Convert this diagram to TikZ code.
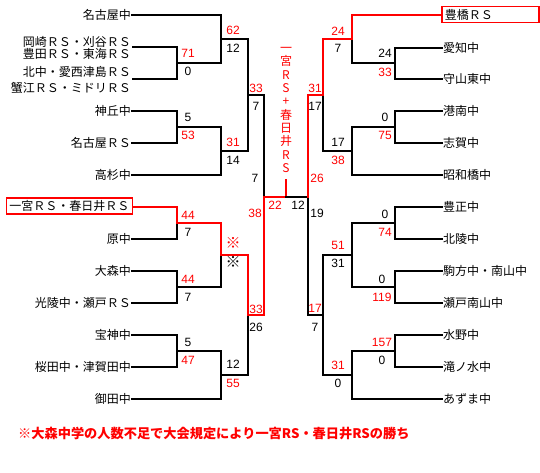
\documentclass[tikz,border=0pt]{standalone}
\usepackage{fontspec}
\setmainfont{Liberation Sans}
\newfontfamily\jp{Noto Sans CJK JP}
\begin{document}
\begin{tikzpicture}[x=1pt,y=-1pt,
  ln/.style={line width=2pt,line cap=rect},
  wl/.style={ln,draw=red},
  sc/.style={font=\fontsize{12}{12}\selectfont,inner sep=0pt},
  scr/.style={sc,text=red},
  mk/.style={font=\jp\fontsize{15}{15}\selectfont,inner sep=0pt},
  tm/.style={font=\jp\fontsize{12}{12}\selectfont,inner sep=1pt},
  tml/.style={tm,anchor=east},
  tmr/.style={tm,anchor=west}]
\useasboundingbox (0,0) rectangle (540,472);
% ---------- left teams
\node[tml] (L0) at (132,15) {名古屋中};
\node[tml] (L1a) at (132,42) {岡崎ＲＳ・刈谷ＲＳ};
\node[tml] (L1b) at (132,54) {豊田ＲＳ・東海ＲＳ};
\node[tml] (L2a) at (132,72) {北中・愛西津島ＲＳ};
\node[tml] (L2b) at (132,88) {蟹江ＲＳ・ミドリＲＳ};
\node[tml] (L3) at (132,111) {神丘中};
\node[tml] (L4) at (132,143) {名古屋ＲＳ};
\node[tml] (L5) at (132,175) {高杉中};
\node[tm,anchor=east,draw=red,line width=1.5pt,minimum width=126pt,minimum height=16pt,inner xsep=3pt] (L6) at (133,206) {一宮ＲＳ・春日井ＲＳ};
\node[tml] (L7) at (132,239) {原中};
\node[tml] (L8) at (132,271) {大森中};
\node[tml] (L9) at (132,303) {光陵中・瀬戸ＲＳ};
\node[tml] (L10) at (132,335) {宝神中};
\node[tml] (L11) at (132,367) {桜田中・津賀田中};
\node[tml] (L12) at (132,399) {御田中};
% ---------- right teams
\node[tm,anchor=west,draw=red,line width=1.5pt,minimum width=97pt,minimum height=16pt,text width=91pt,inner xsep=3pt,align=left] (R0) at (441,14.5) {豊橋ＲＳ};
\node[tmr] (R1) at (442,48) {愛知中};
\node[tmr] (R2) at (442,79) {守山東中};
\node[tmr] (R3) at (442,111) {港南中};
\node[tmr] (R4) at (442,143) {志賀中};
\node[tmr] (R5) at (442,175) {昭和橋中};
\node[tmr] (R6) at (442,207) {豊正中};
\node[tmr] (R7) at (442,239) {北陵中};
\node[tmr] (R8) at (442,271) {駒方中・南山中};
\node[tmr] (R9) at (442,303) {瀬戸南山中};
\node[tmr] (R10) at (442,335) {水野中};
\node[tmr] (R11) at (442,367) {滝ノ水中};
\node[tmr] (R12) at (442,399) {あずま中};
% ---------- coordinates
\coordinate (p1) at (133,47);
\coordinate (p2) at (133,79);
\coordinate (p6) at (133,207);
\coordinate (J1) at (177,63);
\coordinate (J2) at (221,39);
\coordinate (J3) at (177,127);
\coordinate (J4) at (221,151);
\coordinate (J5) at (248,95);
\coordinate (J6) at (177,223);
\coordinate (J7) at (177,287);
\coordinate (J8) at (221,255);
\coordinate (J9) at (177,351);
\coordinate (J10) at (221,375);
\coordinate (J11) at (248,315);
\coordinate (J12) at (264,197);
\coordinate (C) at (286,197);
\coordinate (Ctop) at (286,180);
\coordinate (K1) at (395,63);
\coordinate (K2) at (352,39);
\coordinate (K3) at (395,127);
\coordinate (K4) at (352,151);
\coordinate (K5) at (323,95);
\coordinate (K6) at (395,223);
\coordinate (K7) at (395,287);
\coordinate (K8) at (352,255);
\coordinate (K9) at (395,351);
\coordinate (K10) at (352,375);
\coordinate (K11) at (323,315);
\coordinate (K12) at (308,197);
% ---------- left bracket
\draw[ln] (L0.east) -| (J2);
\draw[ln] (p1) -| (J1) |- (p2);
\draw[ln] (J1) -| (J2);
\draw[ln] (J2) -| (J5);
\draw[ln] (L3.east) -| (J3) |- (L4.east);
\draw[ln] (J3) -| (J4);
\draw[ln] (L5.east) -| (J4);
\draw[ln] (J4) -| (J5);
\draw[ln] (J5) -| (J12);
\draw[ln] (L7.east) -| (J6);
\draw[wl] (p6) -| (J6);
\draw[ln] (L8.east) -| (J7) |- (L9.east);
\draw[ln] (J7) -| (J8);
\draw[wl] (J6) -| (J8);
\draw[ln] (L10.east) -| (J9) |- (L11.east);
\draw[ln] (J9) -| (J10);
\draw[ln] (L12.east) -| (J10);
\draw[ln] (J10) -| (J11);
\draw[wl] (J8) -| (J11);
\draw[wl] (J11) -| (J12);
\draw[wl] (J12) -- (C);
\draw[wl] (C) -- (Ctop);
\draw[ln] (C) -- (K12);
% ---------- right bracket
\draw[ln] (R1.west) -| (K1) |- (R2.west);
\draw[ln] (K1) -| (K2);
\draw[wl] (R0.west) -| (K2);
\draw[ln] (R3.west) -| (K3) |- (R4.west);
\draw[ln] (K3) -| (K4);
\draw[ln] (R5.west) -| (K4);
\draw[ln] (K4) -| (K5);
\draw[wl] (K2) -| (K5);
\draw[ln] (R6.west) -| (K6) |- (R7.west);
\draw[ln] (R8.west) -| (K7) |- (R9.west);
\draw[ln] (K6) -| (K8);
\draw[ln] (K7) -| (K8);
\draw[ln] (R10.west) -| (K9) |- (R11.west);
\draw[ln] (K9) -| (K10);
\draw[ln] (R12.west) -| (K10);
\draw[ln] (K8) -| (K11);
\draw[ln] (K10) -| (K11);
\draw[ln] (K11) -| (K12);
\draw[wl] (K5) -| (K12);
% ---------- champion
\node[text=red,font=\jp\fontsize{12}{13.3}\selectfont,align=center,inner sep=0pt] (champ) at (286,110)
  {一\\宮\\R\\S\\+\\春\\日\\井\\R\\S};
% ---------- scores left
\node[scr] (s1) at (233,30) {62};
\node[sc] (s2) at (233,48) {12};
\node[scr] (s3) at (188,53) {71};
\node[sc] (s4) at (188,71) {0};
\node[sc] (s5) at (188,117) {5};
\node[scr] (s6) at (188,135) {53};
\node[scr] (s7) at (233,142) {31};
\node[sc] (s8) at (233,160) {14};
\node[scr] (s9) at (256,88) {33};
\node[sc] (s10) at (256,106) {7};
\node[sc] (s11) at (255,178) {7};
\node[scr] (s12) at (255,213) {38};
\node[scr] (s13) at (275,205) {22};
\node[sc] (s14) at (298,205) {12};
\node[scr] (s15) at (317,178) {26};
\node[sc] (s16) at (317,213) {19};
\node[scr] (s17) at (188,215) {44};
\node[sc] (s18) at (188,232) {7};
\node[scr] (s19) at (188,279) {44};
\node[sc] (s20) at (188,297) {7};
\node[mk,text=red] (s21) at (233,243) {※};
\node[mk] (s22) at (233,262) {※};
\node[scr] (s23) at (256,309) {33};
\node[sc] (s24) at (256,327) {26};
\node[sc] (s25) at (188,342) {5};
\node[scr] (s26) at (188,360) {47};
\node[sc] (s27) at (233,364) {12};
\node[scr] (s28) at (233,383) {55};
% ---------- scores right
\node[scr] (t1) at (338,31) {24};
\node[sc] (t2) at (338,48) {7};
\node[sc] (t3) at (385,53) {24};
\node[scr] (t4) at (385,72) {33};
\node[scr] (t5) at (315,88) {31};
\node[sc] (t6) at (315,106) {17};
\node[sc] (t7) at (338,142) {17};
\node[scr] (t8) at (338,160) {38};
\node[sc] (t9) at (385,117) {0};
\node[scr] (t10) at (385,135) {75};
\node[sc] (t11) at (385,214) {0};
\node[scr] (t12) at (385,232) {74};
\node[scr] (t13) at (338,245) {51};
\node[sc] (t14) at (338,263) {31};
\node[sc] (t15) at (382,279) {0};
\node[scr] (t16) at (382,297) {119};
\node[scr] (t17) at (315,308) {17};
\node[sc] (t18) at (315,327) {7};
\node[scr] (t19) at (382,342) {157};
\node[sc] (t20) at (382,360) {0};
\node[scr] (t21) at (338,365) {31};
\node[sc] (t22) at (338,383) {0};
% ---------- note
\node[anchor=west,text=red,font=\jp\bfseries\fontsize{13.2}{13.2}\selectfont,inner sep=0pt] (note) at (18,433)
  {※大森中学の人数不足で大会規定により一宮RS・春日井RSの勝ち};
\end{tikzpicture}
\end{document}
